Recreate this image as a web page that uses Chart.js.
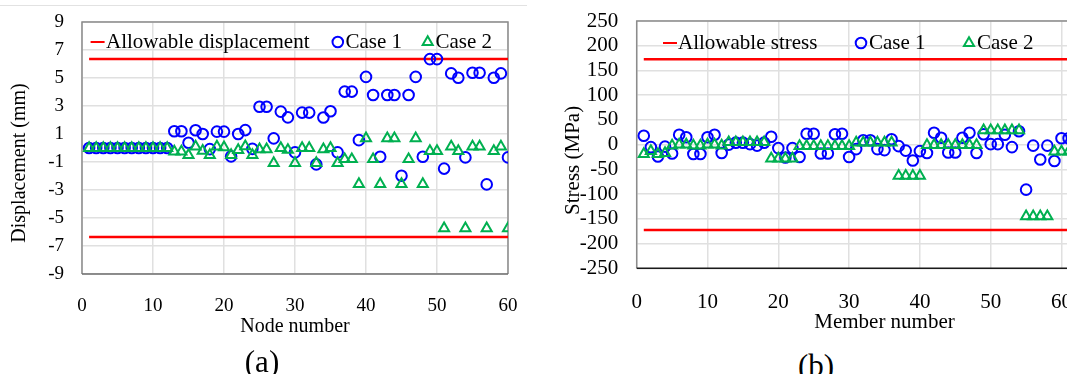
<!DOCTYPE html>
<html>
<head>
<meta charset="utf-8">
<script src="https://cdn.jsdelivr.net/npm/chart.js@4/dist/chart.umd.min.js"></script>
<style>
  body { margin: 0; width: 1067px; height: 374px; overflow: hidden; background: #fff; position: relative; }
  .box { position: absolute; top: 0; height: 345px; }
  .topline { position: absolute; left: 0; top: 5px; width: 527px; height: 1px; background: #e2e2e2; }
  .caption { position: absolute; font-family: "Liberation Serif", serif; font-size: 31px; line-height: 1; transform: translate(-50%, -50%); color: #000; }
</style>
</head>
<body>
<div class="topline"></div>
<div class="box" style="left:0;width:530px"><canvas id="dispChart"></canvas></div>
<div class="box" style="left:530px;width:640px"><canvas id="stressChart"></canvas></div>
<div class="caption" style="left:262px;top:361px">(a)</div>
<div class="caption" style="left:816px;top:365px">(b)</div>
<script>
// ---- data ----
const nodeNumbers = [1,2,3,4,5,6,7,8,9,10,11,12,13,14,15,16,17,18,19,20,
  21,22,23,24,25,26,27,28,29,30,31,32,33,34,35,36,37,38,39,40,
  41,42,43,44,45,46,47,48,49,50,51,52,53,54,55,56,57,58,59,60];

const dispCase1 = [0,0,0,0,0,0,0,0,0,0,0,0,
  1.2,1.2,0.38,1.27,1.0,-0.08,1.17,1.17,-0.6,1.0,1.28,-0.06,
  2.95,2.95,0.69,2.6,2.19,-0.31,2.53,2.53,-1.17,2.18,2.62,-0.31,
  4.03,4.03,0.56,5.08,3.79,-0.62,3.79,3.79,-1.98,3.79,5.08,-0.62,
  6.35,6.35,-1.47,5.33,5.02,-0.67,5.38,5.38,-2.6,5.02,5.33,-0.67];

const dispCase2 = [0,0,0,0,0,0,0,0,0,0,0,0,
  -0.26,-0.26,-0.5,0.1,-0.2,-0.5,0.1,0.05,-0.5,-0.15,0.12,-0.5,
  -0.1,-0.1,-1.08,0,-0.14,-1.08,0,0,-1.08,-0.1,0,-1.08,
  -0.8,-0.8,-2.58,0.69,-0.8,-2.58,0.69,0.69,-2.58,-0.8,0.69,-2.58,
  -0.22,-0.22,-5.74,0.1,-0.22,-5.74,0.1,0.1,-5.74,-0.22,0.1,-5.74];

const allowDisp = 6.35;

const memberNumbers = [1,2,3,4,5,6,7,8,9,10,11,12,13,14,15,16,17,18,19,20,
  21,22,23,24,25,26,27,28,29,30,31,32,33,34,35,36,37,38,39,40,
  41,42,43,44,45,46,47,48,49,50,51,52,53,54,55,56,57,58,59,60,61];

const stressCase1 = [18,-5,-24,-4,-18,20,15,-19,-19,15,20,-17,
  0,4,4,1,-2,4,16,-7,-26,-7,-25,22,
  22,-18,-18,21,22,-25,-9,9,9,-9,-11,11,
  -3,-12,-32,-13,-17,24,14,-16,-16,14,24,-17,
  21,1,1,20,-5,27,-91,-2,-30,-2,-33,13,13];

const stressCase2 = [-19,-13,-19,-17,-2,0,0,-2,-2,0,0,-2,
  5,5,5,5,5,5,-28,-28,-28,-28,-3,-3,
  -3,-3,-3,-3,-3,-3,4,4,4,4,4,4,
  -63,-63,-63,-63,-1,-1,-1,-1,-1,-1,-1,-1,
  29,29,29,29,29,29,-145,-145,-145,-145,-14,-14,-14];

const allowStress = 172.5;

// ---- styling ----
const serif = '"Liberation Serif", "Times New Roman", serif';
const RED = '#ff0000', BLUE = '#0000ff', GREEN = '#00b050';
const GRID = '#e0e0e0';

Chart.defaults.font.family = serif;
Chart.defaults.color = '#000';

function drawMarker(ctx, style, x, y, r) {
  ctx.beginPath();
  if (style === 'circle') {
    ctx.arc(x, y, r, 0, Math.PI * 2);
  } else if (style === 'triangle') {
    ctx.moveTo(x, y - r);
    ctx.lineTo(x + r * 0.866, y + r / 2);
    ctx.lineTo(x - r * 0.866, y + r / 2);
    ctx.closePath();
  } else {
    ctx.moveTo(x - r, y);
    ctx.lineTo(x + r, y);
  }
  ctx.stroke();
}

// legend drawn inside the plot area, like the Excel original
const insideLegend = {
  id: 'insideLegend',
  afterDraw(chart, args, opts) {
    const ctx = chart.ctx;
    ctx.save();
    ctx.font = opts.font;
    ctx.textBaseline = 'middle';
    ctx.lineWidth = 2;
    opts.items.forEach(item => {
      const ds = chart.data.datasets[item.ds];
      ctx.strokeStyle = ds.pointBorderColor || ds.borderColor;
      drawMarker(ctx, item.style, item.x, opts.y, item.r);
      ctx.fillStyle = '#000';
      ctx.fillText(ds.label, item.textX, opts.y);
    });
    ctx.restore();
  }
};

// plot area frame
const plotFrame = {
  id: 'plotFrame',
  beforeDatasetsDraw(chart, args, opts) {
    const {ctx, chartArea: a} = chart;
    ctx.save();
    ctx.lineWidth = 1.5;
    ctx.strokeStyle = opts.sideColor;
    ctx.beginPath();
    ctx.moveTo(a.left, a.bottom);
    ctx.lineTo(a.left, a.top);
    ctx.lineTo(a.right, a.top);
    ctx.lineTo(a.right, a.bottom);
    ctx.stroke();
    ctx.strokeStyle = opts.bottomColor;
    ctx.beginPath();
    ctx.moveTo(a.left, a.bottom);
    ctx.lineTo(a.right, a.bottom);
    ctx.stroke();
    ctx.restore();
  }
};

// fixed axis sizes; drop the label overhang so layout.padding sets the plot edges
function fixX(height) {
  return scale => { scale.height = height; scale.paddingLeft = 0; scale.paddingRight = 0; };
}
function fixY(width) {
  return scale => { scale.width = width; scale.paddingTop = 0; scale.paddingBottom = 0; };
}

function caseDataset(label, data, style, color, radius, order) {
  return {
    label: label, data: data, showLine: false, order: order,
    pointStyle: style, pointRadius: radius, pointBorderWidth: 2,
    pointBorderColor: color, pointBackgroundColor: 'rgba(0,0,0,0)'
  };
}

function limitDataset(label, x0, x1, y) {
  return {
    label: label, data: [{x: x0, y: y}, {x: x1, y: y}],
    borderColor: RED, borderWidth: 2.5, pointRadius: 0, fill: false, order: 3
  };
}

// (a) displacement
new Chart(document.getElementById('dispChart'), {
  type: 'line',
  data: {
    labels: nodeNumbers,
    datasets: [
      limitDataset('Allowable displacement', 1, 60, allowDisp),
      limitDataset('', 1, 60, -allowDisp),
      caseDataset('Case 1', dispCase1, 'circle', BLUE, 5.3, 2),
      caseDataset('Case 2', dispCase2, 'triangle', GREEN, 5.8, 1)
    ]
  },
  options: {
    responsive: true,
    maintainAspectRatio: false,
    animation: false,
    events: [],
    layout: { padding: { top: 22, right: 22, left: 0, bottom: 0 } },
    plugins: {
      legend: { display: false },
      tooltip: { enabled: false },
      insideLegend: {
        y: 42, font: '21px ' + serif,
        items: [
          { ds: 0, style: 'line', r: 7, x: 97.6, textX: 106 },
          { ds: 2, style: 'circle', r: 5.3, x: 337.8, textX: 345.5 },
          { ds: 3, style: 'triangle', r: 5.8, x: 427.7, textX: 435.5 }
        ]
      },
      plotFrame: { sideColor: '#8c8c8c', bottomColor: '#6e6e6e' }
    },
    scales: {
      x: {
        type: 'linear', min: 0, max: 60,
        ticks: { stepSize: 10, padding: 20.5, font: { size: 19 } },
        grid: { color: GRID, lineWidth: 1.5, drawTicks: false },
        border: { display: false },
        title: { display: true, text: 'Node number', font: { size: 20 }, padding: { top: 0, bottom: 6 } },
        afterFit: fixX(71)
      },
      y: {
        min: -9, max: 9,
        ticks: { stepSize: 2, padding: 18, autoSkip: false, font: { size: 19 } },
        grid: { color: GRID, lineWidth: 1.5, drawTicks: false },
        border: { display: false },
        title: { display: true, text: 'Displacement (mm)      ', font: { size: 20 }, padding: { top: 8, bottom: 0 } },
        afterFit: fixY(82)
      }
    }
  },
  plugins: [insideLegend, plotFrame]
});

// (b) stress
new Chart(document.getElementById('stressChart'), {
  type: 'line',
  data: {
    labels: memberNumbers,
    datasets: [
      limitDataset('Allowable stress', 1, 70, allowStress),
      limitDataset('', 1, 70, -allowStress),
      caseDataset('Case 1', stressCase1, 'circle', BLUE, 5.3, 2),
      caseDataset('Case 2', stressCase2, 'triangle', GREEN, 5.8, 1)
    ]
  },
  options: {
    responsive: true,
    maintainAspectRatio: false,
    animation: false,
    events: [],
    layout: { padding: { top: 21, right: 37.7, left: 0, bottom: 0 } },
    plugins: {
      legend: { display: false },
      tooltip: { enabled: false },
      insideLegend: {
        y: 43, font: '21px ' + serif,
        items: [
          { ds: 0, style: 'line', r: 7, x: 140, textX: 148 },
          { ds: 2, style: 'circle', r: 5.3, x: 331, textX: 339 },
          { ds: 3, style: 'triangle', r: 5.8, x: 439, textX: 447 }
        ]
      },
      plotFrame: { sideColor: '#8c8c8c', bottomColor: '#1a1a1a' }
    },
    scales: {
      x: {
        type: 'linear', min: 0, max: 70,
        ticks: { stepSize: 10, padding: 21.5, font: { size: 21 } },
        grid: { color: GRID, lineWidth: 1.5, drawTicks: false },
        border: { display: false },
        title: { display: true, text: 'Member number', font: { size: 21 }, padding: { top: 0, bottom: 10 } },
        afterFit: fixX(76.7)
      },
      y: {
        min: -250, max: 250,
        ticks: { stepSize: 50, padding: 18.5, autoSkip: false, font: { size: 21 } },
        grid: { color: GRID, lineWidth: 1.5, drawTicks: false },
        border: { display: false },
        title: { display: true, text: 'Stress (MPa)      ', font: { size: 21 }, padding: { top: 30.4, bottom: 0 } },
        afterFit: fixY(106.7)
      }
    }
  },
  plugins: [insideLegend, plotFrame]
});
</script>
</body>
</html>
